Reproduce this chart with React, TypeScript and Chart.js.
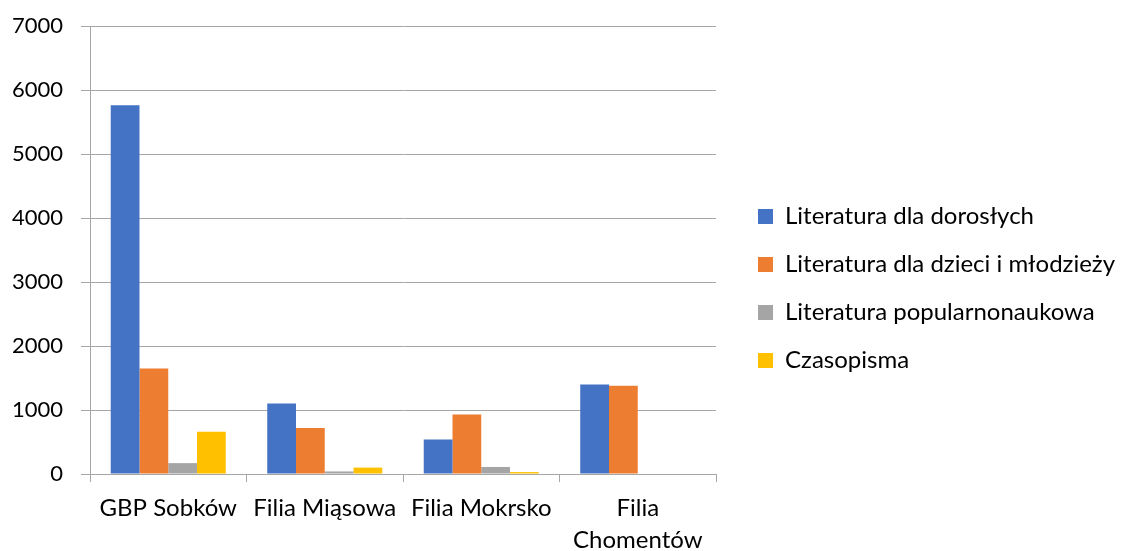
import React, { useEffect, useRef } from "react";
import { Chart, registerables } from "chart.js";

Chart.register(...registerables);

const categories: (string | string[])[] = [
  "GBP Sobków",
  "Filia Miąsowa",
  "Filia Mokrsko",
  ["Filia", "Chomentów"],
];
const seriesNames = [
  "Literatura dla dorosłych",
  "Literatura dla dzieci i młodzieży",
  "Literatura popularnonaukowa",
  "Czasopisma",
];
const adultLit = [5760, 1100, 540, 1400];
const youthLit = [1650, 720, 930, 1380];
const popSci = [170, 40, 110, 0];
const magazines = [660, 100, 30, 0];
const colors = ["#4472C4", "#ED7D31", "#A5A5A5", "#FFC000"];
const yTicks = [0, 1000, 2000, 3000, 4000, 5000, 6000, 7000];

const FONT = "Lato";
const FS = 24;
const GRID = "#a6a6a6";
const LEGEND_W = 1123 - 734;

const fixLegendWidth = {
  id: "fixLegendWidth",
  beforeLayout(chart: any) {
    const lg: any = chart.legend;
    if (lg && !lg._patchedFit) {
      const orig = lg.fit.bind(lg);
      lg.fit = () => {
        orig();
        lg.width = LEGEND_W;
      };
      lg._patchedFit = true;
    }
  },
};

export default function App() {
  const ref = useRef<HTMLCanvasElement | null>(null);
  useEffect(() => {
    if (!ref.current) return;
    const values = [adultLit, youthLit, popSci, magazines];
    const chart = new Chart(ref.current, {
      type: "bar",
      data: {
        labels: categories,
        datasets: seriesNames.map((name, i) => ({
          label: name,
          data: values[i],
          backgroundColor: colors[i],
          borderWidth: 0,
          categoryPercentage: 0.735,
          barPercentage: 1,
          yAxisID: "y",
        })),
      },
      plugins: [fixLegendWidth],
      options: {
        animation: false,
        responsive: true,
        maintainAspectRatio: false,
        layout: { padding: { top: 26, left: 0, right: 0, bottom: 0 } },
        plugins: {
          tooltip: { enabled: false },
          legend: {
            position: "right",
            maxWidth: 700,
            labels: {
              boxWidth: 15,
              boxHeight: 15,
              padding: 48 - FS,
              color: "#000",
              font: { family: FONT, size: FS },
            },
          },
        },
        scales: {
          x: {
            offset: true,
            grid: {
              offset: true,
              drawOnChartArea: false,
              drawTicks: true,
              tickLength: 8,
              color: GRID,
            },
            border: { display: true, color: GRID },
            ticks: {
              color: "#000",
              padding: 10,
              maxRotation: 0,
              autoSkip: false,
              font: { family: FONT, size: FS, lineHeight: 32 / FS },
            },
            afterFit: (s: any) => {
              s.height = 77;
            },
          },
          y: {
            min: 0,
            max: 7000,
            afterBuildTicks: (s: any) => {
              s.ticks = yTicks.map((v) => ({ value: v }));
            },
            grid: { color: GRID, tickLength: 9 },
            border: { display: true, color: GRID },
            ticks: {
              color: "#000",
              padding: 18,
              font: { family: FONT, size: 22 },
              callback: (v: any) => String(v),
            },
            afterFit: (s: any) => {
              s.width = 90;
              s.paddingTop = 0;
              s.paddingBottom = 0;
            },
          },
          pad: {
            type: "linear",
            position: "right",
            display: true,
            grid: { display: false },
            border: { display: false },
            ticks: { display: false },
            afterFit: (s: any) => {
              s.width = 18;
            },
          },
        },
      },
    });
    return () => chart.destroy();
  }, []);
  return (
    <div style={{ position: "absolute", left: 0, top: 0, width: 1123, height: 551, background: "#fff" }}>
      <canvas ref={ref} />
    </div>
  );
}
